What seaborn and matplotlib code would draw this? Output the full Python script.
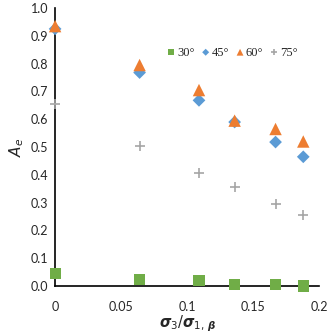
import numpy as np
import pandas as pd
import seaborn as sns
from matplotlib import pyplot as plt

# 数据
ratio = [0, 0.064, 0.109, 0.136, 0.167, 0.188]
angles = ['30°', '45°', '60°', '75°']
ae_30 = [0.045, 0.025, 0.02, 0.005, 0.005, 0.0]
ae_45 = [0.925, 0.768, 0.668, 0.59, 0.518, 0.465]
ae_60 = [0.935, 0.795, 0.705, 0.595, 0.565, 0.52]
ae_75 = [0.655, 0.505, 0.405, 0.355, 0.295, 0.255]

data = pd.DataFrame({
    'ratio': ratio * 4,
    'Ae': ae_30 + ae_45 + ae_60 + ae_75,
    'angle': np.repeat(angles, len(ratio)),
})

sns.set_style('white')
plt.rcParams['font.family'] = ['Lato', 'DejaVu Sans']
plt.rcParams['mathtext.fontset'] = 'dejavusans'

colors = {'30°': '#70AD47', '45°': '#5B9BD5', '60°': '#ED7D31', '75°': '#A5A5A5'}
markers = {'30°': 's', '45°': 'D', '60°': '^', '75°': 'P'}
sizes = {'30°': 65, '45°': 42, '60°': 80, '75°': 60}

fig, ax = plt.subplots(figsize=(3.3, 3.35), dpi=100)
for a in angles:
    sub = data[data['angle'] == a]
    if a == '75°':
        sns.scatterplot(x='ratio', y='Ae', data=sub, ax=ax, marker='+', color=colors[a],
                        s=sizes[a], linewidth=1.2, label=a, clip_on=False, zorder=3)
    else:
        sns.scatterplot(x='ratio', y='Ae', data=sub, ax=ax, marker=markers[a], color=colors[a],
                        s=sizes[a], edgecolor='none', label=a, clip_on=False, zorder=3)

ax.set_xlim(0, 0.2)
ax.set_ylim(0, 1.0)
ax.set_xticks([0, 0.05, 0.1, 0.15, 0.2])
ax.set_xticklabels(['0', '0.05', '0.1', '0.15', '0.2'])
ax.set_yticks(np.arange(0, 1.01, 0.1))
ax.set_yticklabels(['%.1f' % v for v in np.arange(0, 1.01, 0.1)])
ax.tick_params(axis='both', direction='out', length=3, width=1, labelsize=9, color='black', pad=2)
ax.tick_params(axis='x', pad=8)
for s in ['top', 'right']:
    ax.spines[s].set_visible(False)
for s in ['left', 'bottom']:
    ax.spines[s].set_color('black')
    ax.spines[s].set_linewidth(1.2)

ax.set_xlabel(r'$\boldsymbol{\sigma}_3/\boldsymbol{\sigma}_{1,\,\boldsymbol{\beta}}$', fontsize=10.5, labelpad=0)
ax.set_ylabel(r'$A_e$', fontsize=11, labelpad=3)

leg = ax.legend(loc='center', bbox_to_anchor=(0.67, 0.84), ncol=4, frameon=False,
                handletextpad=0.05, columnspacing=0.5, handlelength=0.8, borderpad=0,
                markerscale=0.55, prop={'family': 'Liberation Serif', 'size': 9})

plt.subplots_adjust(left=0.167, right=0.967, top=0.976, bottom=0.146)
plt.savefig('out.png', dpi=100)
